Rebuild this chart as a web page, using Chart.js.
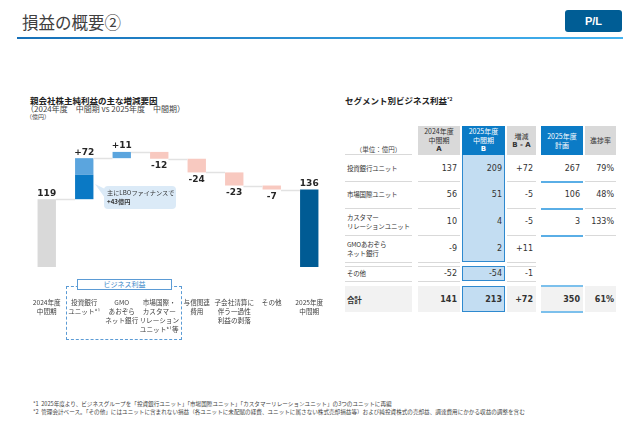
<!DOCTYPE html>
<html lang="ja">
<head>
<meta charset="utf-8">
<title>損益の概要②</title>
<script src="https://cdn.jsdelivr.net/npm/chart.js@4.4.1/dist/chart.umd.min.js"></script>
<style>
  html, body { margin: 0; padding: 0; background: #fff; }
  body { width: 640px; height: 443px; position: relative; overflow: hidden; font-family: "Noto Sans CJK JP", sans-serif; color: #333; }
  .abs { position: absolute; }
  .title { left: 22px; top: 11px; font-size: 16.5px; line-height: 22px; color: #404040; }
  .rule { left: 17px; top: 37px; width: 606px; height: 2px; background: linear-gradient(to right, #1670b8, #43b3f0); }
  .badge { left: 565px; top: 10px; width: 57px; height: 22px; border-radius: 3px; background: #005d95; color: #fff;
           font: bold 11px "Liberation Sans", Arial, sans-serif; display: flex; align-items: center; justify-content: center; }
  .head { font-weight: bold; font-size: 8.5px; line-height: 10px; color: #222; white-space: nowrap; }
  .sub { font-size: 8px; line-height: 9px; color: #444; white-space: nowrap; }
  .unit { font-size: 6px; line-height: 8px; color: #444; }
  sup { font-size: 0.6em; vertical-align: 0.6em; line-height: 0; }
  #chartWrap { left: 28px; top: 120px; width: 300px; height: 225px; }
  .bizbox { left: 66px; top: 286px; width: 114px; height: 52px; border: 1px dashed #5b9bd5; }
  .bizlabel { left: 77px; top: 279px; width: 93px; height: 9px; border: 1px solid #5b9bd5; background: #fff;
              color: #3a86c8; font-size: 7px; line-height: 9px; text-align: center; }
  .callout { left: 104px; top: 186px; width: 72px; height: 23px; border-radius: 4px; background: #dbeaf7; white-space: nowrap;
             font-size: 6.2px; line-height: 9px; color: #333; padding: 2px 0 0 3px; box-sizing: border-box; }
  .pointer { left: 95px; top: 184px; width: 10px; height: 14px; background: #dbeaf7; clip-path: polygon(0 0, 100% 35%, 100% 100%); }
  .foot { left: 33px; font-size: 5.6px; line-height: 8px; color: #444; white-space: nowrap; }
  .cell { position: absolute; box-sizing: border-box; display: flex; align-items: center; }
  .num { justify-content: flex-end; font-family: "DejaVu Sans", sans-serif; font-size: 8px; color: #333; }
  .lbl { font-size: 6.5px; line-height: 9px; color: #333; padding-left: 2px; white-space: nowrap; letter-spacing: -0.2px; }
  .hdr { flex-direction: column; justify-content: center; font-size: 7px; line-height: 9px; text-align: center; white-space: nowrap; }
  .hline { position: absolute; height: 1px; background: #d9d9d9; }
</style>
</head>
<body>
  <div class="abs title">損益の概要②</div>
  <div class="abs rule"></div>
  <div class="abs badge">P/L</div>

  <div class="abs head" style="left:30px; top:95px;">親会社株主純利益の主な増減要因</div>
  <div class="abs sub" style="left:26px; top:104px;">（2024年度　中間期 vs 2025年度　中間期）</div>
  <div class="abs unit" style="left:26px; top:113px;">（億円）</div>

  <div class="abs head" style="left:345px; top:95px;">セグメント別ビジネス利益<sup>*2</sup></div>

  <div class="abs bizbox"></div>
  <div class="abs bizlabel">ビジネス利益</div>
  <div id="chartWrap" class="abs"><canvas id="waterfallChart"></canvas></div>
  <div class="abs pointer"></div>
  <div class="abs callout">主にLBOファイナンスで<br><b>+43億円</b></div>

  <div id="segTable"></div>

  <div class="abs foot" style="top:400px;">*1&nbsp; 2025年度より、ビジネスグループを「投資銀行ユニット」「市場国際ユニット」「カスタマーリレーションユニット」の3つのユニットに再編</div>
  <div class="abs foot" style="top:408px;">*2&nbsp; 管理会計ベース。「その他」にはユニットに含まれない損益（各ユニットに未配賦の経費、ユニットに属さない株式売却損益等）および純投資株式の売却益、調達費用にかかる収益の調整を含む</div>

<script>
// ---- waterfall data (億円) ----
const CATEGORY_LABELS = [
  ['2024年度', '中間期'],
  ['投資銀行', 'ユニット*¹'],
  ['GMO', 'あおぞら', 'ネット銀行'],
  ['市場国際・', 'カスタマー', 'リレーション', 'ユニット*¹等'],
  ['与信関連', '費用'],
  ['子会社清算に', '伴う一過性', '利益の剥落'],
  ['その他'],
  ['2025年度', '中間期']
];
const START_TOTAL = 119;
const CHANGES = [72, 11, -12, -24, -23, -7];
const END_TOTAL = 136;
const LBO_PART = 43;   // dark part of the investment banking bar

// ---- segment table data ----
const SEG_NAMES = ['投資銀行ユニット', '市場国際ユニット', 'カスタマー<br>リレーションユニット', 'GMOあおぞら<br>ネット銀行', 'その他'];
const SEG_FY24 = ['137', '56', '10', '-9', '-52'];
const SEG_FY25 = ['209', '51', '4', '2', '-54'];
const SEG_DIFF = ['+72', '-5', '-5', '+11', '-1'];
const SEG_PLAN = ['267', '106', '3', '', ''];
const SEG_PROGRESS = ['79%', '48%', '133%', '', ''];
const TOTAL_ROW = ['141', '213', '+72', '350', '61%'];

const BAR_COLORS = ['#d9d9d9', '#0a79c5', '#5ba5de', '#f8c9c0', '#f8c9c0', '#f8c9c0', '#f8c9c0', '#005b94'];
const LIGHT_BLUE = '#5ba5de';

let waterfallChart;

function buildRanges() {
  const ranges = [[0, START_TOTAL]];
  let level = START_TOTAL;
  CHANGES.forEach(c => { ranges.push([level, level + c]); level += c; });
  ranges.push([0, END_TOTAL]);
  return ranges;
}

function valueLabels() {
  const fmt = v => (v > 0 ? '+' : '') + v;
  return [String(START_TOTAL), ...CHANGES.map(fmt), String(END_TOTAL)];
}

// connectors between bars, value labels and the category labels under the bars
const waterfallExtras = {
  id: 'waterfallExtras',
  afterDatasetsDraw(chart) {
    const { ctx, chartArea } = chart;
    const bars = chart.getDatasetMeta(0).data;
    const x = chart.scales.x;
    const y = chart.scales.y;
    const ranges = buildRanges();
    const labels = valueLabels();

    ctx.save();
    ctx.strokeStyle = '#e2e2e2';
    ctx.lineWidth = 1.5;
    for (let i = 0; i < ranges.length - 1; i++) {
      const py = Math.round(y.getPixelForValue(ranges[i][1])) + 0.5;
      ctx.beginPath();
      ctx.moveTo(bars[i].x + bars[i].width / 2, py);
      ctx.lineTo(bars[i + 1].x - bars[i + 1].width / 2, py);
      ctx.stroke();
    }

    ctx.font = 'bold 9px "DejaVu Sans", sans-serif';
    ctx.fillStyle = '#262626';
    ctx.textAlign = 'center';
    ctx.textBaseline = 'middle';
    ranges.forEach((r, i) => {
      const up = r[1] >= r[0];
      const v = up ? Math.max(r[0], r[1]) : Math.min(r[0], r[1]);
      ctx.fillText(labels[i], bars[i].x, y.getPixelForValue(v) + (up ? -6 : 7));
    });

    // category labels (the x axis itself is hidden so it adds no side padding)
    ctx.font = '6.6px "Noto Sans CJK JP", sans-serif';
    ctx.fillStyle = '#404040';
    CATEGORY_LABELS.forEach((lines, i) => {
      const cx = x.getPixelForValue(i);
      lines.forEach((t, k) => ctx.fillText(t, cx, chartArea.bottom + 35 + k * 9));
    });
    ctx.restore();
  }
};

function renderWaterfall() {
  const ranges = buildRanges();
  const lower = ranges.map((r, i) => i === 1 ? [r[0], r[0] + LBO_PART] : r);
  const upper = ranges.map((r, i) => i === 1 ? [r[0] + LBO_PART, r[1]] : null);

  waterfallChart = new Chart(document.getElementById('waterfallChart'), {
    type: 'bar',
    data: {
      labels: CATEGORY_LABELS.map(l => l.join('')),
      datasets: [
        { data: lower, backgroundColor: BAR_COLORS, grouped: false, barPercentage: 0.98, categoryPercentage: 0.5 },
        { data: upper, backgroundColor: LIGHT_BLUE, grouped: false, barPercentage: 0.98, categoryPercentage: 0.5 }
      ]
    },
    options: {
      responsive: true,
      maintainAspectRatio: false,
      animation: false,
      layout: { padding: { left: 0, right: 0, top: 0, bottom: 78 } },
      plugins: { legend: { display: false }, tooltip: { enabled: false } },
      scales: {
        x: { display: false },
        y: { display: false, min: 0, max: 258 }
      }
    },
    plugins: [waterfallExtras]
  });
}

// ---- segment table ----
const COLS = [
  { x: 345, w: 67 }, { x: 418, w: 42 }, { x: 462, w: 43 }, { x: 507, w: 29 }, { x: 541, w: 42 }, { x: 585, w: 31 }
];
const ROWS = [{ y: 155, h: 26 }, { y: 181, h: 27 }, { y: 208, h: 27 }, { y: 235, h: 27 }, { y: 266, h: 15 }];
const TOTAL_Y = { y: 286, h: 26 };

function addDiv(parent, cls, style, html) {
  const d = document.createElement('div');
  d.className = cls;
  Object.assign(d.style, style);
  if (html !== undefined) d.innerHTML = html;
  parent.appendChild(d);
  return d;
}

function px(v) { return v + 'px'; }

function renderTable() {
  const t = document.getElementById('segTable');
  const c = COLS;

  // total row background
  [0, 1, 3, 4, 5].forEach(i => addDiv(t, 'cell', { left: px(c[i].x), top: px(TOTAL_Y.y), width: px(c[i].w), height: px(TOTAL_Y.h), background: '#f2f2f2' }));

  // B column blocks
  [[126, 136], [266, 15], [286, 26]].forEach(([y, h]) =>
    addDiv(t, 'cell', { left: px(c[2].x), top: px(y), width: px(c[2].w), height: px(h), background: '#c3ddf2', border: '1px solid #2e89cf' }));

  // headers
  const grayHdr = { background: '#d9d9d9', color: '#333' };
  const blueHdr = { background: '#0b7bc6', color: '#fff' };
  const hdr = (i, style, html) => addDiv(t, 'cell hdr', Object.assign({ left: px(c[i].x), top: '126px', width: px(c[i].w), height: '29px' }, style), html);
  hdr(1, grayHdr, '<span>2024年度</span><span>中間期</span><b style="font-family:DejaVu Sans">A</b>');
  hdr(2, blueHdr, '<span>2025年度</span><span>中間期</span><b style="font-family:DejaVu Sans">B</b>');
  hdr(3, grayHdr, '<span>増減</span><b style="font-family:DejaVu Sans">B - A</b>');
  hdr(4, blueHdr, '<span>2025年度</span><span>計画</span>');
  hdr(5, grayHdr, '<span>進捗率</span>');
  addDiv(t, 'cell hdr', { left: px(c[0].x), top: '144px', width: px(c[0].w), height: '10px', color: '#444', fontSize: '6.5px' }, '（単位：億円）');

  // grid lines
  const line = (i, y, color, h) => addDiv(t, 'hline', { left: px(c[i].x), top: px(y), width: px(c[i].w), background: color || '#d9d9d9', height: px(h || 1) });
  line(0, 154);
  [181, 208, 235, 262, 266, 281].forEach(y => { line(0, y); line(1, y); line(3, y); });
  [181, 208, 235].forEach(y => { line(4, y, '#5aaee6', 1.5); line(5, y); });
  line(4, 285, '#7cc0ec', 2);
  line(4, 311, '#7cc0ec', 2);

  // body rows
  const columns = [SEG_FY24, SEG_FY25, SEG_DIFF, SEG_PLAN, SEG_PROGRESS];
  ROWS.forEach((r, ri) => {
    addDiv(t, 'cell lbl', { left: px(c[0].x), top: px(r.y), width: px(c[0].w), height: px(r.h) }, '<span>' + SEG_NAMES[ri] + '</span>');
    columns.forEach((col, ci) => {
      const cc = c[ci + 1];
      addDiv(t, 'cell num', { left: px(cc.x), top: px(r.y), width: px(cc.w), height: px(r.h), paddingRight: ci === 4 ? '2px' : '3px' }, col[ri]);
    });
  });

  // total row
  addDiv(t, 'cell lbl', { left: px(c[0].x), top: px(TOTAL_Y.y), width: px(c[0].w), height: px(TOTAL_Y.h), fontWeight: 'bold', fontSize: '7.5px' }, '合計');
  TOTAL_ROW.forEach((v, ci) => {
    const cc = c[ci + 1];
    addDiv(t, 'cell num', { left: px(cc.x), top: px(TOTAL_Y.y), width: px(cc.w), height: px(TOTAL_Y.h), fontWeight: 'bold', paddingRight: ci === 4 ? '2px' : '3px' }, v);
  });
}

document.addEventListener('DOMContentLoaded', () => {
  renderWaterfall();
  renderTable();
});
</script>
</body>
</html>
